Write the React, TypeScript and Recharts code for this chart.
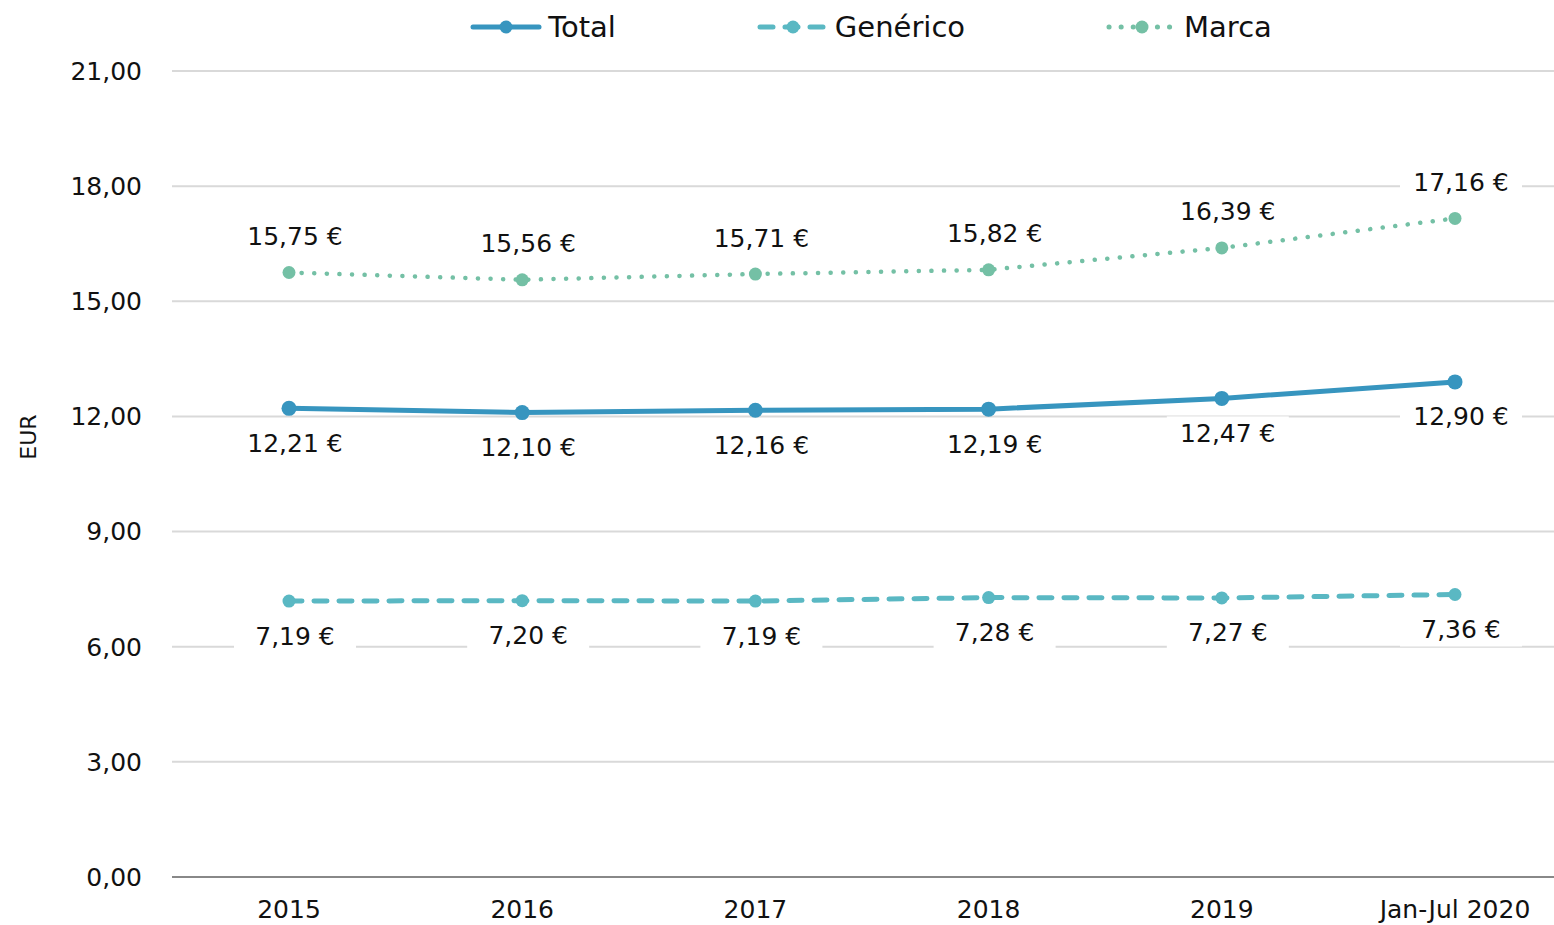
import React from "react"
import { LineChart, Line, XAxis, YAxis, CartesianGrid, LabelList } from "recharts"

const years = ["2015", "2016", "2017", "2018", "2019", "Jan-Jul 2020"]
const total = [12.21, 12.1, 12.16, 12.19, 12.47, 12.9]
const generico = [7.19, 7.2, 7.19, 7.28, 7.27, 7.36]
const marca = [15.75, 15.56, 15.71, 15.82, 16.39, 17.16]
const yTicks = [0, 3, 6, 9, 12, 15, 18, 21]

const data = years.map((year, i) => ({
    year,
    total: total[i],
    generico: generico[i],
    marca: marca[i],
}))

const FONT = "'DejaVu Sans', sans-serif"
const C_TOTAL = "#3795bf"
const C_GEN = "#5ab8c3"
const C_MARCA = "#74c0a5"

const fmt = (v: number) => v.toFixed(2).replace(".", ",")

// label with a white box behind it, like the Excel ones that cut the gridlines
const makeLabel = (dy: number) => (props: any) => {
    const { x, y, value } = props
    const text = fmt(value) + " €"
    const w = 122
    const cx = x + 6
    const cy = y + dy
    return (
        <g>
            <rect x={cx - w / 2} y={cy - 17} width={w} height={34} fill="#fff" />
            <text x={cx} y={cy} textAnchor="middle" dominantBaseline="central"
                fontSize={25} fontFamily={FONT} fill="#111">{text}</text>
        </g>
    )
}

const legendItems = [
    { name: "Total", color: C_TOTAL, dash: undefined },
    { name: "Genérico", color: C_GEN, dash: "13 12" },
    { name: "Marca", color: C_MARCA, dash: "0.1 12" },
]

const EurLabel = (props: any) => {
    const { viewBox } = props
    const x = viewBox.x + 28
    const y = 437
    return (
        <text x={x} y={y} transform={`rotate(-90 ${x} ${y})`} textAnchor="middle" dominantBaseline="central"
            fontSize={22} fontFamily={FONT} fill="#111">EUR</text>
    )
}

export default function App() {
    return (
        <div style={{ position: "absolute", left: 0, top: 0, width: 1554, height: 925, overflow: "hidden", background: "#fff" }}>
            <div style={{ position: "absolute", top: 10, left: 0, width: 1554, display: "flex", justifyContent: "center", gap: 141,
                fontFamily: FONT, fontSize: 29, color: "#111", paddingLeft: 188, boxSizing: "border-box" }}>
                {legendItems.map((it) => (
                    <div key={it.name} style={{ display: "flex", alignItems: "center" }}>
                        <svg width={72} height={20} style={{ marginRight: 6 }}>
                            <line x1={3} y1={10} x2={69} y2={10} stroke={it.color} strokeWidth={5}
                                strokeDasharray={it.dash} strokeLinecap="round" />
                            <circle cx={36} cy={10} r={6.5} fill={it.color} />
                        </svg>
                        <span>{it.name}</span>
                    </div>
                ))}
            </div>
            <LineChart width={1572} height={925} data={data} margin={{ top: 71, right: 0, bottom: 0, left: 0 }}>
                <CartesianGrid vertical={false} stroke="#d9d9d9" strokeWidth={2} />
                <XAxis dataKey="year" height={48} axisLine={{ stroke: "#888", strokeWidth: 2 }} tickLine={false} tickMargin={17}
                    tick={{ fontSize: 25, fontFamily: FONT, fill: "#111" }} interval={0}
                    padding={{ left: 117, right: 117 }} />
                <YAxis width={172} domain={[0, 21]} ticks={yTicks} tickFormatter={fmt} axisLine={false} tickLine={false}
                    tickMargin={24} tick={{ fontSize: 25, fontFamily: FONT, fill: "#111" }}
                    label={<EurLabel />} />
                <Line dataKey="marca" name="Marca" stroke={C_MARCA} strokeWidth={4.5} strokeDasharray="0.1 12.5"
                    strokeLinecap="round" dot={{ r: 6.5, fill: C_MARCA, stroke: "none" }} isAnimationActive={false}>
                    <LabelList dataKey="marca" content={makeLabel(-36)} />
                </Line>
                <Line dataKey="generico" name="Genérico" stroke={C_GEN} strokeWidth={5} strokeDasharray="13 12"
                    strokeLinecap="round" dot={{ r: 6.5, fill: C_GEN, stroke: "none" }} isAnimationActive={false}>
                    <LabelList dataKey="generico" content={makeLabel(35)} />
                </Line>
                <Line dataKey="total" name="Total" stroke={C_TOTAL} strokeWidth={5}
                    dot={{ r: 7.5, fill: C_TOTAL, stroke: "none" }} isAnimationActive={false}>
                    <LabelList dataKey="total" content={makeLabel(35)} />
                </Line>
            </LineChart>
        </div>
    )
}
